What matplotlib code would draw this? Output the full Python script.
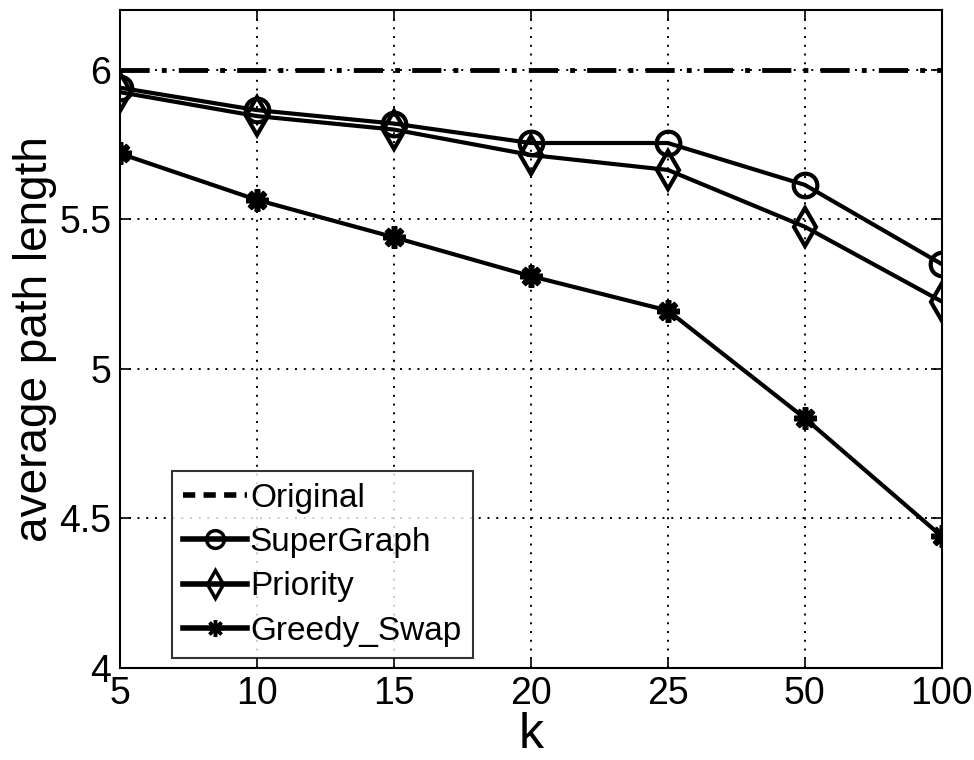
import matplotlib.pyplot as plt
from matplotlib import font_manager
import numpy as np

installed = {f.name for f in font_manager.fontManager.ttflist}
if 'Liberation Sans Narrow' in installed:
    plt.rcParams['font.family'] = ['Liberation Sans Narrow', 'DejaVu Sans']
else:
    plt.rcParams['font.family'] = ['Liberation Sans', 'DejaVu Sans']

k_labels = ['5', '10', '15', '20', '25', '50', '100']
original = [6.0] * 7
supergraph = [5.94, 5.865, 5.82, 5.755, 5.755, 5.615, 5.35]
priority = [5.925, 5.845, 5.80, 5.715, 5.665, 5.475, 5.225]
greedy_swap = [5.72, 5.565, 5.44, 5.31, 5.195, 4.835, 4.44]

x = np.arange(len(k_labels))

fig = plt.figure(figsize=(9.74, 7.6), dpi=100)
ax = fig.add_axes([0.123, 0.121, 0.844, 0.866])

ax.plot(x, original, color='k', linestyle=(0, (6, 2.5, 1, 2.5)), linewidth=3.5,
        label='Original')
ax.plot(x, supergraph, color='k', linewidth=3, marker='o', markersize=17,
        markerfacecolor='none', markeredgewidth=3, label='SuperGraph')
ax.plot(x, priority, color='k', linewidth=3, marker='d', markersize=19,
        markerfacecolor='none', markeredgewidth=3, label='Priority')
ax.plot(x, greedy_swap, color='k', linewidth=3, marker=(8, 2, 0), markersize=16,
        markeredgewidth=4, label='Greedy_Swap')

ax.set_xlim(0, len(k_labels) - 1)
ax.set_ylim(4, 6.2)
ax.set_xticks(x)
ax.set_xticklabels(k_labels)
ax.set_yticks([4, 4.5, 5, 5.5, 6])
ax.set_yticklabels(['4', '4.5', '5', '5.5', '6'])
ax.tick_params(direction='in', top=True, right=True, length=8, width=1.2,
               labelsize=27, pad=6)
for s in ax.spines.values():
    s.set_linewidth(1.5)
ax.grid(True, color='k', linestyle=(0, (1, 3.5)), linewidth=1.4)

ax.set_xlabel('k', fontsize=36, labelpad=0)
ax.set_ylabel('average path length', fontsize=33, labelpad=2)

leg = ax.legend(loc='lower left', bbox_to_anchor=(0.063, 0.015), fontsize=24,
                frameon=True, fancybox=False, edgecolor='k', handlelength=1.9,
                handletextpad=0.1, borderpad=0.35, labelspacing=0.4,
                borderaxespad=0, markerscale=0.75)
leg.get_frame().set_linewidth(1.5)
leg_lines = leg.get_lines()
leg_lines[0].set_linestyle((0, (2.2, 1.5)))
for ln in leg_lines:
    ln.set_linewidth(4)
    ln.set_markeredgewidth(2.5)

fig.savefig('out.png', dpi=100)
